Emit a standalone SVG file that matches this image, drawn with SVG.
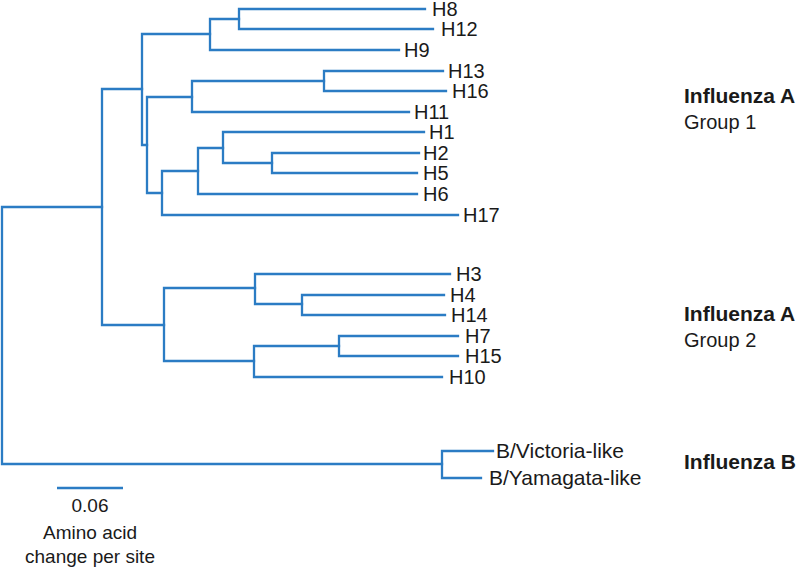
<svg xmlns="http://www.w3.org/2000/svg" width="800" height="570" viewBox="0 0 800 570">
<style>
.br{fill:none;stroke:#2b7cc4;stroke-width:2.3;stroke-linecap:square;stroke-linejoin:miter}
.lf{font-family:"Liberation Sans",Arial,sans-serif;font-size:20px;fill:#1a1a1a}
.lb{font-family:"Liberation Sans",Arial,sans-serif;font-size:21px;fill:#1a1a1a}
.gb{font-family:"Liberation Sans",Arial,sans-serif;font-size:21px;font-weight:bold;fill:#1a1a1a}
.gn{font-family:"Liberation Sans",Arial,sans-serif;font-size:20px;fill:#1a1a1a}
.sc{font-family:"Liberation Sans",Arial,sans-serif;font-size:19px;fill:#1a1a1a;text-anchor:middle}
</style>
<rect width="800" height="570" fill="#ffffff"/>
<g id="connectors">
<path class="br" d="M102,207 H2 V464 H442"/>
<path class="br" d="M142,89 H102 V325 H164"/>
<path class="br" d="M210,34 H142 V145 H147"/>
<path class="br" d="M239,19 H210 V50 H399"/>
<path class="br" d="M425,9 H239 V29 H433"/>
<path class="br" d="M192,97 H147 V193 H162"/>
<path class="br" d="M324,81 H192 V112 H409"/>
<path class="br" d="M443,71 H324 V91 H446"/>
<path class="br" d="M198,171 H162 V215 H458"/>
<path class="br" d="M223,148 H198 V194 H417"/>
<path class="br" d="M424,132 H223 V163 H272"/>
<path class="br" d="M419,153 H272 V173 H417"/>
<path class="br" d="M255,288 H164 V361 H254"/>
<path class="br" d="M450,274 H255 V304 H302"/>
<path class="br" d="M444,295 H302 V315 H445"/>
<path class="br" d="M339,346 H254 V377 H442"/>
<path class="br" d="M458,336 H339 V356 H458"/>
<path class="br" d="M493,451 H442 V478 H481"/>
</g>
<g id="leaf-H8"><text class="lf" x="432" y="16">H8</text></g>
<g id="leaf-H12"><text class="lf" x="441" y="36">H12</text></g>
<g id="leaf-H9"><text class="lf" x="404" y="57">H9</text></g>
<g id="leaf-H13"><text class="lf" x="448" y="78">H13</text></g>
<g id="leaf-H16"><text class="lf" x="452" y="98">H16</text></g>
<g id="leaf-H11"><text class="lf" x="414" y="119">H11</text></g>
<g id="leaf-H1"><text class="lf" x="429" y="139">H1</text></g>
<g id="leaf-H2"><text class="lf" x="423" y="160">H2</text></g>
<g id="leaf-H5"><text class="lf" x="423" y="180">H5</text></g>
<g id="leaf-H6"><text class="lf" x="423" y="201">H6</text></g>
<g id="leaf-H17"><text class="lf" x="463" y="222">H17</text></g>
<g id="leaf-H3"><text class="lf" x="456" y="281">H3</text></g>
<g id="leaf-H4"><text class="lf" x="450" y="302">H4</text></g>
<g id="leaf-H14"><text class="lf" x="451" y="322">H14</text></g>
<g id="leaf-H7"><text class="lf" x="465" y="343">H7</text></g>
<g id="leaf-H15"><text class="lf" x="465" y="363">H15</text></g>
<g id="leaf-H10"><text class="lf" x="449" y="384">H10</text></g>
<g id="leaf-BVic"><text class="lb" x="496" y="458">B/Victoria-like</text></g>
<g id="leaf-BYam"><text class="lb" x="489" y="485">B/Yamagata-like</text></g>
<g id="group-A1"><text class="gb" x="684" y="103">Influenza A</text><text class="gn" x="684" y="129">Group 1</text></g>
<g id="group-A2"><text class="gb" x="684" y="321">Influenza A</text><text class="gn" x="684" y="347">Group 2</text></g>
<g id="group-B"><text class="gb" x="684" y="469">Influenza B</text></g>
<g id="scale">
<line class="br" x1="57" y1="488" x2="123" y2="488" style="stroke-linecap:butt"/>
<text class="sc" x="90" y="512">0.06</text>
<text class="sc" x="90" y="539">Amino acid</text>
<text class="sc" x="90" y="563">change per site</text>
</g>
</svg>
